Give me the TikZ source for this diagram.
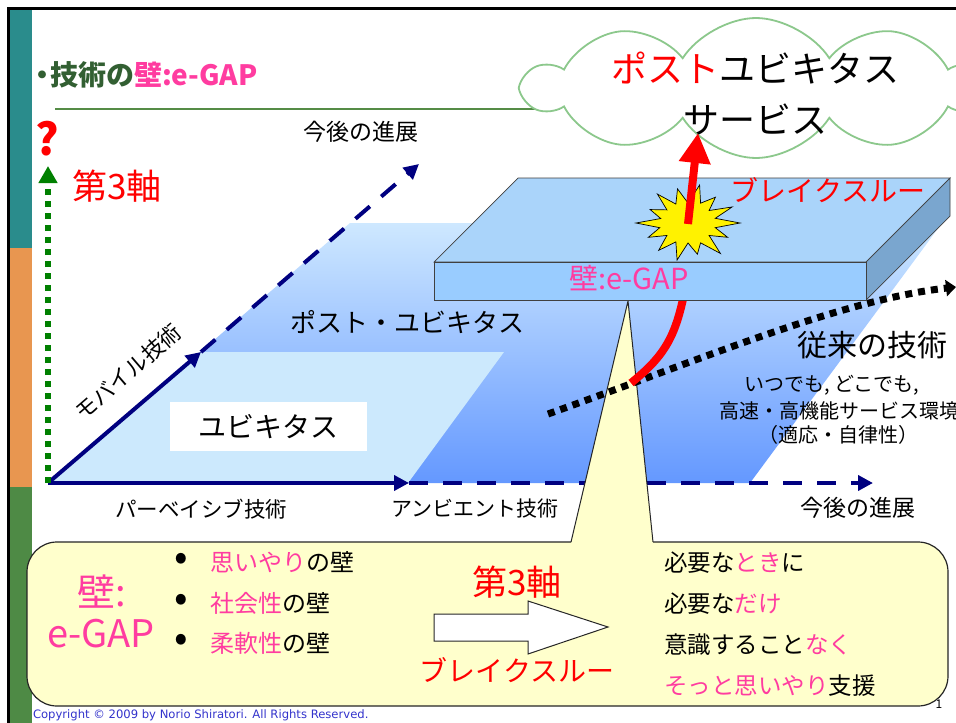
\documentclass[tikz,border=0pt]{standalone}
\usepackage{fontspec}
\setmainfont{Noto Sans CJK JP}
\newfontfamily\cpyfont{DejaVu Sans}
\usetikzlibrary{arrows.meta,shapes.symbols}

\definecolor{navyblue}{RGB}{0,0,128}
\definecolor{barteal}{RGB}{42,140,140}
\definecolor{barorange}{RGB}{232,150,80}
\definecolor{bargreen}{RGB}{78,138,69}
\definecolor{titlegreen}{RGB}{50,95,50}
\definecolor{rulegreen}{RGB}{85,140,70}
\definecolor{epink}{RGB}{255,60,160}
\definecolor{axisgreen}{RGB}{0,128,0}
\definecolor{cloudline}{RGB}{140,200,140}
\definecolor{ubiqblue}{RGB}{204,233,253}
\definecolor{gradtop}{RGB}{206,232,255}
\definecolor{gradbottom}{RGB}{100,152,255}
\definecolor{platetop}{RGB}{170,212,250}
\definecolor{platefront}{RGB}{153,204,255}
\definecolor{plateside}{RGB}{122,166,207}
\definecolor{calloutfill}{RGB}{255,255,204}
\definecolor{copyblue}{RGB}{51,51,204}

\newcommand\fsz[1]{\fontsize{#1}{#1}\selectfont}

\begin{document}
\begin{tikzpicture}[x=1pt,y=-1pt,
  lbl/.style={inner sep=0pt, outer sep=0pt},
  navysolid/.style={draw=navyblue, line width=4pt, -{Triangle[length=15pt,width=15pt]}},
  navydash/.style={draw=navyblue, line width=4pt, dash pattern=on 19pt off 15pt, -{Triangle[length=15pt,width=15pt]}},
  platefacet/.style={draw=black!75, line width=0.7pt},
  redstroke/.style={draw=red, line width=8pt}]

\useasboundingbox (0,0) rectangle (956,723);
\clip (0,0) rectangle (956,723);
\fill[white] (0,0) rectangle (956,723);

% side bar and frame
\fill[barteal] (10,9) rectangle (32,248);
\fill[barorange] (10,248) rectangle (32,487);
\fill[bargreen] (10,487) rectangle (32,723);
\draw[black, line width=3pt] (8.5,723) -- (8.5,8) -- (956,8);

% heading and rule
\node[lbl, anchor=west] (title) at (28,75)
  {\bfseries\fsz{28}{\color{titlegreen}・\kern-6pt 技術の}{\color{epink}壁:e-GAP}};
\coordinate (ruleA) at (55,109);
\coordinate (ruleB) at (560,109);
\draw[rulegreen, line width=2pt] (ruleA) -- (ruleB);

% cloud
\node[cloud, cloud puffs=10, cloud puff arc=115, aspect=3.3,
      minimum width=462pt, minimum height=140pt, draw=cloudline, fill=white,
      line width=1.8pt] (cloud) at (756,88) {};
\node[lbl] (cloudA) at (755,68) {\fsz{36}{\color{red}ポスト}ユビキタス};
\node[lbl] (cloudB) at (755,119) {\fsz{36}サービス};

% technology planes
\shade[top color=gradtop, bottom color=gradbottom]
  (48,483) -- (350,223) -- (942,223) -- (750,483) -- cycle;
\fill[ubiqblue] (48,483) -- (200,352) -- (504,352) -- (408,483) -- cycle;
\fill[white] (170,402) rectangle (367,451);
\node[lbl] (ubiq) at (268,427) {\fsz{28}ユビキタス};
\node[lbl] (postubiq) at (407,322) {\fsz{26}ポスト・ユビキタス};

% axes
\coordinate (O) at (48,483);
\coordinate (xmid) at (409,483);
\coordinate (xend) at (873,483);
\coordinate (dmid) at (201,352);
\coordinate (dend) at (419,164);
\coordinate (zend) at (48,166);
\draw[navysolid] (O) -- (xmid);
\draw[navydash] (xmid) -- (xend);
\draw[navysolid] (O) -- (dmid);
\draw[navydash] (dmid) -- (dend);
\draw[axisgreen, line width=5.5pt, dash pattern=on 6pt off 6pt,
      -{Triangle[length=17pt,width=18pt]}] (O) -- (zend);

\node[lbl] (qmark) at (47,139) {\bfseries\fsz{44}\color{red}?};
\node[lbl] (axis3) at (117,186) {\fsz{35}\color{red}第3軸};
\node[lbl, rotate=40.7] (mobile) at (128,372) {\fsz{22}モバイル技術};
\node[lbl] (pervasive) at (201,509) {\fsz{21.5}パーベイシブ技術};
\node[lbl] (ambient) at (475,509) {\fsz{21}アンビエント技術};
\node[lbl] (futureA) at (361,132) {\fsz{23}今後の進展};
\node[lbl] (futureB) at (858,508) {\fsz{23}今後の進展};

% page number
\node[lbl] (pageno) at (939,704) {\fsz{12}1};

% callout
\fill[calloutfill, draw=black!85, line width=1.2pt, rounded corners=30pt]
  (27,542) rectangle (948,706);
\fill[calloutfill] (571,543.5) -- (628,301) -- (653,543.5) -- cycle;
\draw[black!85, line width=1pt] (571,542) -- (628,301) -- (653,542);

\node[lbl] (wallA) at (102,592) {\fsz{38}\color{epink}壁:};
\node[lbl] (wallB) at (101,634) {\fsz{38}\color{epink}e-GAP};
\foreach \yy/\nm in {562/d1,603/d2,643/d3}
  \node[lbl] (\nm) at (181,\yy) {\fsz{40}•};
\node[lbl, anchor=west] (w1) at (210,562) {\fsz{24}{\color{epink}思いやり}の壁};
\node[lbl, anchor=west] (w2) at (210,603) {\fsz{24}{\color{epink}社会性}の壁};
\node[lbl, anchor=west] (w3) at (210,643) {\fsz{24}{\color{epink}柔軟性}の壁};

\node[lbl] (axis3b) at (517,582) {\fsz{35}\color{red}第3軸};
\draw[fill=white, draw=black!85, line width=1pt]
  (434,614) -- (528,614) -- (528,601) -- (608,627) -- (528,654) -- (528,641) -- (434,641) -- cycle;
\node[lbl] (breakB) at (517,670) {\fsz{28}\color{red}ブレイクスルー};

\node[lbl, anchor=west] (r1) at (664,563) {\fsz{23.5}必要な{\color{epink}とき}に};
\node[lbl, anchor=west] (r2) at (664,604) {\fsz{23.5}必要な{\color{epink}だけ}};
\node[lbl, anchor=west] (r3) at (664,645) {\fsz{23.5}意識すること{\color{epink}なく}};
\node[lbl, anchor=west] (r4) at (664,686) {\fsz{23.5}{\color{epink}そっと思いやり}支援};

% conventional technology trajectory
\coordinate (tradA) at (548,414);
\coordinate (tradB) at (956,287);
\draw[black, line width=7pt, dash pattern=on 7pt off 6pt,
      -{Triangle[length=10pt,width=16pt]}]
  (tradA) .. controls (700,360) and (840,300) .. (tradB);

% breakthrough path under the wall
\coordinate (curveA) at (683,299);
\coordinate (curveB) at (631,383);
\draw[redstroke] (curveA) .. controls (674,340) and (662,358) .. (curveB);

% the wall slab
\fill[platetop, platefacet] (434,262) -- (518,178) -- (950,178) -- (866,262) -- cycle;
\fill[plateside, platefacet] (866,262) -- (950,178) -- (950,216) -- (866,300) -- cycle;
\fill[platefront, platefacet] (434,262) rectangle (866,300);
\node[lbl] (wall) at (629,278) {\fsz{29}\color{epink}壁:e-GAP};

% burst
\begin{scope}[shift={(688,223)}]
\filldraw[fill=yellow, draw=black, line width=0.7pt]
  (0:52 and 39) -- (12.9:28 and 21) -- (25.7:44 and 33) -- (38.6:27 and 20)
  -- (51.4:52 and 39) -- (64.3:29 and 22) -- (77.1:42 and 32) -- (90:27 and 20)
  -- (102.9:49 and 38) -- (115.7:28 and 21) -- (128.6:47 and 35) -- (141.4:27 and 20)
  -- (154.3:44 and 33) -- (167.1:29 and 21) -- (180:52 and 39) -- (192.9:28 and 20)
  -- (205.7:42 and 31) -- (218.6:27 and 21) -- (231.4:49 and 37) -- (244.3:28 and 21)
  -- (257.1:47 and 35) -- (270:27 and 20) -- (282.9:52 and 39) -- (295.7:29 and 22)
  -- (308.6:44 and 33) -- (321.4:27 and 20) -- (334.3:49 and 37) -- (347.1:28 and 21)
  -- cycle;
\end{scope}

% breakthrough arrow
\coordinate (upA) at (688,224);
\coordinate (upB) at (698,133);
\draw[redstroke, -{Triangle[length=30pt,width=30pt]}] (upA) -- (upB);
\node[lbl] (breakA) at (828,190) {\fsz{28}\color{red}ブレイクスルー};

% conventional technology labels
\node[lbl] (trad) at (872,345) {\fsz{30}従来の技術};
\node[lbl] (tradL1) at (832,385) {\fsz{20}いつでも, どこでも,};
\node[lbl, anchor=west] (tradL2) at (719,411) {\fsz{20}高速・高機能サービス環境};
\node[lbl] (tradL3) at (838,435) {\fsz{20}（適応・自律性）};

% copyright line
\node[lbl, anchor=west] (copy) at (33,715) {\cpyfont\fsz{11.6}\color{copyblue}Copyright © 2009 by Norio Shiratori. All Rights Reserved.};

\end{tikzpicture}
\end{document}
